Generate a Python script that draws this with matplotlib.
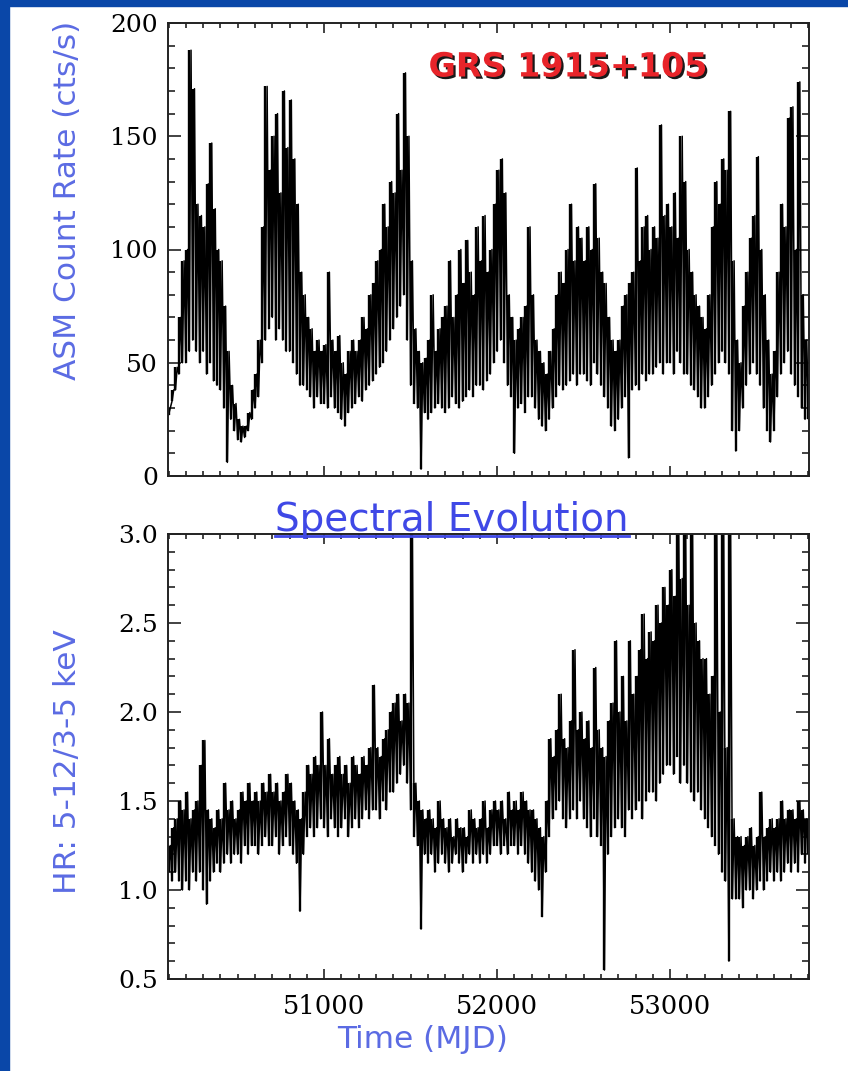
import numpy as np
import matplotlib
matplotlib.use("Agg")
import matplotlib.pyplot as plt
import matplotlib.patheffects as pe
from matplotlib.lines import Line2D
from matplotlib.patches import Rectangle
from matplotlib.ticker import MultipleLocator, FormatStrFormatter

plt.rcParams['font.family'] = ['DejaVu Sans']

# 20-day time bins (MJD), low / high envelope of the daily light curve in each bin
mjd = np.arange(50100, 53801, 20)

asm_lo = [27, 33, 38, 45, 50,   50, 55, 60, 55, 50,   55, 45, 50, 42, 40,   38, 30, 6, 25, 20,
          16, 15, 17, 20, 25,   30, 35, 50, 60, 65,   70, 60, 65, 60, 55,   55, 50, 45, 40, 40,
          38, 35, 30, 35, 32,   32, 30, 35, 30, 28,   25, 22, 28, 30, 32,   35, 33, 38, 40, 42,
          45, 48, 50, 55, 60,   65, 70, 75, 80, 60,   40, 32, 30, 3, 28,    25, 28, 30, 32, 30,
          28, 30, 35, 32, 30,   33, 35, 38, 35, 40,   40, 38, 42, 45, 50,   55, 60, 50, 40, 35,
          10, 30, 32, 28, 35,   35, 30, 25, 22, 20,   25, 30, 35, 40, 38,   40, 42, 45, 40, 45,
          45, 42, 40, 50, 45,   40, 35, 30, 22, 20,   25, 30, 35, 8, 38,    40, 38, 45, 42, 45,
          45, 48, 50, 45, 50,   50, 45, 55, 50, 45,   45, 40, 38, 35, 30,   30, 35, 40, 45, 50,
          55, 50, 45, 20, 11,   20, 30, 40, 45, 50,   45, 40, 30, 20, 15,   20, 35, 45, 50, 55,
          45, 40, 35, 30, 25,   25]
asm_hi = [30, 38, 48, 70, 95,   100, 188, 171, 120, 115,   110, 129, 147, 118, 100,   95, 75, 55, 40, 32,
          25, 22, 22, 28, 38,   45, 60, 110, 172, 135,   150, 160, 125, 170, 145,   166, 140, 120, 90, 80,
          70, 65, 55, 60, 55,   58, 90, 60, 55, 62,   50, 45, 55, 60, 55,   60, 70, 65, 80, 85,
          95, 100, 120, 110, 130,   125, 160, 135, 178, 150,   95, 65, 55, 50, 52,   60, 80, 55, 65, 70,
          75, 95, 70, 80, 100,   85, 104, 90, 80, 110,   95, 115, 90, 100, 120,   135, 140, 125, 80, 70,
          60, 65, 70, 75, 110,   80, 60, 55, 50, 45,   55, 65, 80, 90, 85,   100, 120, 95, 110, 105,
          95, 110, 100, 129, 105,   90, 85, 70, 60, 55,   60, 75, 80, 85, 90,   136, 95, 110, 115, 100,
          110, 105, 155, 115, 120,   110, 125, 105, 150, 130,   100, 90, 80, 75, 70,   65, 80, 110, 130, 120,
          140, 135, 161, 95, 60,   50, 75, 90, 105, 115,   141, 100, 80, 60, 45,   55, 90, 120, 110, 158,
          163, 100, 174, 80, 60,   45]

hr_lo = [1.10, 1.05, 1.10, 1.05, 1.00,   1.05, 1.00, 1.10, 1.05, 1.10,   1.00, 0.92, 1.05, 1.10, 1.15,
         1.10, 1.15, 1.20, 1.15, 1.20,   1.20, 1.15, 1.25, 1.20, 1.25,   1.25, 1.20, 1.25, 1.30, 1.25,
         1.25, 1.30, 1.20, 1.25, 1.30,   1.25, 1.20, 1.15, 0.88, 1.20,   1.30, 1.35, 1.30, 1.35, 1.40,
         1.35, 1.30, 1.40, 1.35, 1.30,   1.35, 1.40, 1.30, 1.35, 1.40,   1.35, 1.40, 1.45, 1.40, 1.45,
         1.45, 1.40, 1.50, 1.45, 1.55,   1.55, 1.60, 1.65, 1.70, 1.60,   1.45, 1.30, 1.25, 0.78, 1.20,
         1.15, 1.20, 1.10, 1.15, 1.20,   1.15, 1.10, 1.15, 1.20, 1.15,   1.10, 1.15, 1.20, 1.15, 1.20,
         1.15, 1.20, 1.15, 1.20, 1.25,   1.25, 1.20, 1.25, 1.20, 1.25,   1.25, 1.20, 1.25, 1.20, 1.15,
         1.10, 1.05, 1.00, 0.85, 1.10,   1.30, 1.40, 1.45, 1.50, 1.40,   1.35, 1.40, 1.45, 1.40, 1.50,
         1.40, 1.35, 1.30, 1.40, 1.30,   1.25, 0.55, 1.20, 1.30, 1.35,   1.40, 1.35, 1.30, 1.45, 1.40,
         1.45, 1.50, 1.40, 1.50, 1.55,   1.55, 1.50, 1.60, 1.65, 1.70,   1.70, 1.65, 1.75, 1.60, 1.70,
         1.60, 1.55, 1.50, 1.55, 1.45,   1.40, 1.35, 1.30, 1.25, 1.20,   1.10, 1.05, 0.60, 0.95, 0.95,
         0.95, 0.90, 1.00, 1.00, 0.95,   1.00, 1.05, 1.00, 1.05, 1.10,   1.05, 1.10, 1.05, 1.10, 1.15,
         1.10, 1.15, 1.10, 1.20, 1.15,   1.20]
hr_hi = [1.25, 1.35, 1.40, 1.50, 1.45,   1.55, 1.40, 1.45, 1.50, 1.70,   1.84, 1.45, 1.40, 1.35, 1.45,
         1.40, 1.60, 1.45, 1.50, 1.40,   1.45, 1.55, 1.50, 1.60, 1.50,   1.55, 1.50, 1.60, 1.55, 1.65,
         1.55, 1.60, 1.50, 1.55, 1.65,   1.60, 1.50, 1.45, 1.40, 1.55,   1.70, 1.65, 1.75, 1.70, 2.00,
         1.70, 1.85, 1.65, 1.70, 1.75,   1.65, 1.70, 1.60, 1.75, 1.70,   1.65, 1.75, 1.70, 1.80, 2.15,
         1.80, 1.75, 1.85, 1.90, 2.00,   2.05, 2.10, 1.95, 2.10, 2.05,   3.05, 1.60, 1.50, 1.45, 1.40,
         1.45, 1.40, 1.35, 1.50, 1.40,   1.35, 1.40, 1.30, 1.40, 1.35,   1.35, 1.30, 1.45, 1.40, 1.35,
         1.40, 1.50, 1.35, 1.45, 1.50,   1.45, 1.50, 1.40, 1.55, 1.45,   1.50, 1.45, 1.55, 1.50, 1.45,
         1.45, 1.40, 1.35, 1.30, 1.50,   1.85, 1.75, 1.90, 2.10, 1.85,   1.80, 1.95, 2.35, 1.90, 2.00,
         1.85, 1.95, 1.80, 2.25, 1.90,   1.80, 1.75, 1.95, 2.05, 2.40,   2.00, 2.20, 1.95, 2.40, 2.10,
         2.20, 2.35, 2.55, 2.30, 2.45,   2.40, 2.60, 2.50, 2.70, 2.60,   2.80, 2.65, 3.05, 2.75, 3.05,
         2.60, 3.05, 2.50, 2.40, 2.30,   2.30, 2.10, 2.20, 3.05, 2.00,   3.05, 1.80, 3.05, 1.40, 1.30,
         1.30, 1.25, 1.30, 1.35, 1.25,   1.30, 1.55, 1.30, 1.35, 1.40,   1.35, 1.40, 1.50, 1.40, 1.45,
         1.45, 1.40, 1.50, 1.45, 1.40,   1.40]

ylabels = ["ASM Count Rate (cts/s)", "HR: 5-12/3-5 keV"]
title = "GRS 1915+105"
subtitle = "Spectral Evolution"
xlabel = "Time (MJD)"


def draw_curve(ax, lo, hi):
    # vertical strokes give the dense core, the zig-zag joins neighbouring bins
    ax.vlines(mjd, lo, hi, color='k', lw=1.7)
    x = np.column_stack([mjd, mjd + 10]).ravel()
    y = np.column_stack([lo, hi]).ravel()
    ax.plot(x, y, color='k', lw=1.1)


W, H = 848, 1071
fig = plt.figure(figsize=(W / 100, H / 100), dpi=100)
fig.patch.set_facecolor('white')

# blue slide frame (top and left)
fig.add_artist(Rectangle((0, 1 - 6 / H), 1, 6 / H, transform=fig.transFigure,
                         color='#0A47A8', zorder=0))
fig.add_artist(Rectangle((0, 0), 9 / W, 1, transform=fig.transFigure,
                         color='#0A47A8', zorder=0))

left, right = 167.5 / W, 809 / W
ax1 = fig.add_axes([left, 1 - 476 / H, right - left, (476 - 23) / H])
ax2 = fig.add_axes([left, 1 - 979 / H, right - left, (979 - 534) / H])

draw_curve(ax1, asm_lo, asm_hi)
draw_curve(ax2, hr_lo, hr_hi)

ax1.set_ylim(0, 200)
ax2.set_ylim(0.5, 3.0)
ax1.yaxis.set_major_locator(MultipleLocator(50))
ax1.yaxis.set_minor_locator(MultipleLocator(10))
ax2.yaxis.set_major_locator(MultipleLocator(0.5))
ax2.yaxis.set_minor_locator(MultipleLocator(0.1))
ax2.yaxis.set_major_formatter(FormatStrFormatter('%.1f'))

for ax in (ax1, ax2):
    ax.set_xlim(50094, 53803)
    ax.xaxis.set_major_locator(MultipleLocator(1000))
    ax.xaxis.set_minor_locator(MultipleLocator(100))
    for s in ax.spines.values():
        s.set_linewidth(1.4)
        s.set_color('#222222')
    ax.tick_params(which='both', direction='in', top=True, right=True, color='#222222', width=1.2)
    ax.tick_params(axis='x', which='major', length=7.2)
    ax.tick_params(axis='x', which='minor', length=3.6)
    ax.tick_params(axis='y', which='major', length=9.4)
    ax.tick_params(axis='y', which='minor', length=4.7)
    ax.tick_params(axis='y', labelsize=18, pad=7)
    for lab in ax.get_yticklabels():
        lab.set_fontfamily('DejaVu Serif')

ax1.tick_params(axis='x', labelbottom=False)
ax2.tick_params(axis='x', labelsize=18.5, pad=11)
for lab in ax2.get_xticklabels():
    lab.set_fontfamily('DejaVu Serif')

# end labels pushed inward like the original
fig.canvas.draw()
for ax in (ax1, ax2):
    labs = ax.get_yticklabels()
    labs[0].set_va('bottom')
    labs[-1].set_va('top')

lab_col = '#5B6BE3'
fig.text(68 / W, 1 - 200 / H, ylabels[0], rotation=90, ha='center', va='center',
         color=lab_col, fontsize=22.5)
fig.text(68 / W, 1 - 762 / H, ylabels[1], rotation=90, ha='center', va='center',
         color=lab_col, fontsize=22.5)
fig.text(423 / W, 1 - 1039 / H, xlabel, ha='center', va='center', color=lab_col, fontsize=22.5)

fig.text(568 / W, 1 - 67 / H, title, ha='center', va='center', color='#E8242A',
         fontsize=24, fontweight='bold',
         path_effects=[pe.SimplePatchShadow(offset=(1.6, -1.6), shadow_rgbFace='k', alpha=0.9),
                       pe.Normal()])

sub = fig.text(452 / W, 1 - 531 / H, subtitle, ha='center', va='baseline', color='#3F48E6',
               fontsize=28)
fig.canvas.draw()
bb = sub.get_window_extent()
fig.add_artist(Line2D([bb.x0 / W, bb.x1 / W], [1 - 536 / H, 1 - 536 / H],
                      transform=fig.transFigure, color='#3F48E6', lw=2))

fig.savefig('out.png', dpi=100)
